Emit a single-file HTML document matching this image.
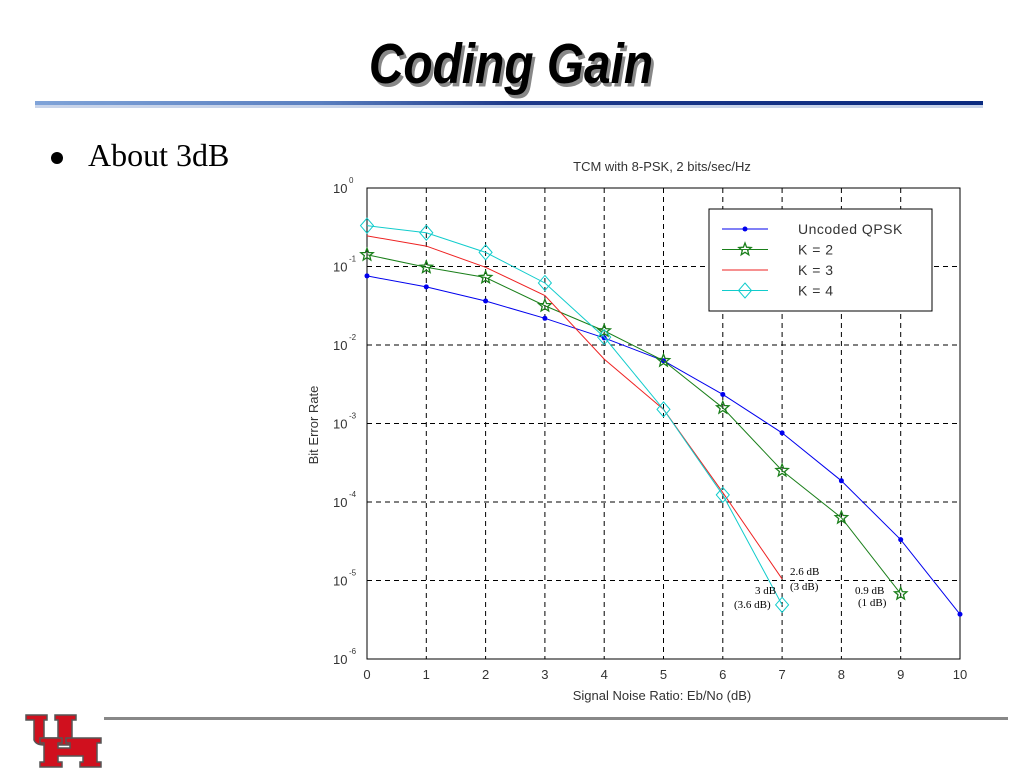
<!DOCTYPE html>
<html><head><meta charset="utf-8"><style>
body{margin:0;width:1024px;height:768px;background:#fff;overflow:hidden;font-family:"Liberation Sans",sans-serif}
</style></head><body>
<svg width="1024" height="768" viewBox="0 0 1024 768" xmlns="http://www.w3.org/2000/svg">
<defs><linearGradient id="bar" x1="0" x2="1"><stop offset="0" stop-color="#7fa3d8"/><stop offset="0.3" stop-color="#5a7fc0"/><stop offset="0.5" stop-color="#1f3a8a"/><stop offset="1" stop-color="#0a2a80"/></linearGradient></defs>
<g transform="translate(511 0) scale(0.92 1.08) translate(-511 0)">
<text x="514" y="80" text-anchor="middle" font-size="52" font-weight="bold" font-style="italic" fill="#888">Coding Gain</text>
<text x="511" y="77" text-anchor="middle" font-size="52" font-weight="bold" font-style="italic" fill="#000">Coding Gain</text>
</g>
<rect x="35" y="101" width="948" height="4" fill="url(#bar)"/>
<rect x="35" y="105" width="948" height="3" fill="#c8d4ea"/>
<circle cx="57" cy="158" r="6" fill="#000"/>
<text x="88" y="166" font-family="Liberation Serif" font-size="32">About 3dB</text>
<rect x="104" y="717" width="904" height="3" fill="#888"/>
<g fill="#d0101e" stroke="#555" stroke-width="1.5">
<path d="M26 715 H47 V720 H44 V738 H58 V720 H55 V715 H76 V720 H72 V745 H44 Q36 745 34 740 V720 H26 Z"/>
<path d="M40 738 H62 V743 H58 V748 H70 V743 H66 V738 H101 V743 H97 V762 H101 V767 H80 V762 H83 V756 H58 V762 H62 V767 H40 V762 H44 V743 H40 Z"/>
</g>
<g id="chart"></g>
</svg>
<script>
const xVals=[0,1,2,3,4,5,6,7,8,9,10];
const uncoded=[-1.12,-1.26,-1.44,-1.66,-1.91,-2.20,-2.63,-3.12,-3.73,-4.48,-5.43];
const k2=[-0.85,-1.01,-1.14,-1.50,-1.82,-2.20,-2.80,-3.60,-4.20,-5.17];
const k3=[-0.61,-0.74,-1.01,-1.37,-2.18,-2.82,-3.88,-4.98];
const k4=[-0.48,-0.57,-0.82,-1.21,-1.90,-2.82,-3.91,-5.31];
const xTicks=[0,1,2,3,4,5,6,7,8,9,10];
const yTicks=[0,-1,-2,-3,-4,-5,-6];
const L=367,R=960,T=188,B=659;
const sx=v=>L+(R-L)*v/10, sy=v=>T+(B-T)*(-v)/6;
const NS='http://www.w3.org/2000/svg', g=document.getElementById('chart');
function el(t,a,p){const e=document.createElementNS(NS,t);for(const k in a)e.setAttribute(k,a[k]);(p||g).appendChild(e);return e;}
let e=el('rect',{x:L,y:T,width:R-L,height:B-T,fill:'#fff',stroke:'#000','stroke-width':1});


xTicks.forEach(v=>{const x=sx(v);
 if(v>0&&v<10){let l=el('line',{x1:x,x2:x,y1:T,y2:B,stroke:'#000','stroke-dasharray':'5,4'});}
 let t=el('text',{x:x,y:B+20,'text-anchor':'middle','font-size':13,fill:'#333'});t.textContent=v;
 
 });
yTicks.forEach(v=>{const y=sy(v);
 if(v<0&&v>-6){let l=el('line',{x1:L,x2:R,y1:y,y2:y,stroke:'#000','stroke-dasharray':'5,4'});}
 let t=el('text',{x:333,y:y+5,'font-size':13,fill:'#333'});t.textContent='10';
 
 
 let s=el('text',{x:349,y:y-5,'font-size':8,fill:'#333'});s.textContent=String(v);
 
 });
let tt=el('text',{x:662,y:171,'text-anchor':'middle','font-size':13,fill:'#333'});tt.textContent='TCM with 8-PSK, 2 bits/sec/Hz';


let xt=el('text',{x:662,y:700,'text-anchor':'middle','font-size':13,fill:'#333'});xt.textContent='Signal Noise Ratio: Eb/No (dB)';


let yt=el('text',{x:318,y:425,'text-anchor':'middle','font-size':13,fill:'#333',transform:'rotate(-90 318 425)'});yt.textContent='Bit Error Rate';


function marker(type,x,y,c,parent){
 if(type==='dot'){let m=el('circle',{cx:x,cy:y,r:2.5,fill:c},parent);}
 else if(type==='star'){let p=[];for(let i=0;i<10;i++){const r=i%2?2.8:6.5,a=-Math.PI/2+i*Math.PI/5;p.push((x+r*Math.cos(a)).toFixed(1)+','+(y+r*Math.sin(a)).toFixed(1));}
  let m=el('polygon',{points:p.join(' '),fill:'none',stroke:c,'stroke-width':1.3},parent);}
 else if(type==='diamond'){let m=el('polygon',{points:`${x},${y-7.5} ${x+6.5},${y} ${x},${y+7.5} ${x-6.5},${y}`,fill:'none',stroke:c},parent);}
}
const series=[['uncoded-qpsk',uncoded,'#0000ee','dot'],['k2',k2,'#1a7f1a','star'],['k3',k3,'#ee2222',null],['k4',k4,'#11cccc','diamond']];
series.forEach(([n,vals,c,m])=>{
 const sg=el('g',{});
 
 
 el('polyline',{points:vals.map((v,i)=>sx(xVals[i])+','+sy(v)).join(' '),fill:'none',stroke:c,'stroke-width':1},sg);
 if(m)vals.forEach((v,i)=>marker(m,sx(xVals[i]),sy(v),c,sg));
});
const lg=el('g',{});


el('rect',{x:709,y:209,width:223,height:102,fill:'#fff',stroke:'#000'},lg);
const labels=['Uncoded QPSK','K = 2','K = 3','K = 4'];
series.forEach(([n,v,c,m],i)=>{const y=229+i*20.5;
 const en=el('g',{},lg);
 
 
 el('line',{x1:722,x2:768,y1:y,y2:y,stroke:c},en);
 if(m)marker(m,745,y,c,en);
 const t=el('text',{x:798,y:y+5,'font-size':14,fill:'#333','letter-spacing':'0.5'},en);t.textContent=labels[i];});
const ann=[[790,575,'2.6 dB'],[790,590,'(3 dB)'],[755,594,'3 dB'],[734,608,'(3.6 dB)'],[855,594,'0.9 dB'],[858,606,'(1 dB)']];
ann.forEach(([x,y,s])=>{const t=el('text',{x:x,y:y,'font-family':'Liberation Serif','font-size':11,fill:'#000'});t.textContent=s;
 
 });
</script>
</body></html>
